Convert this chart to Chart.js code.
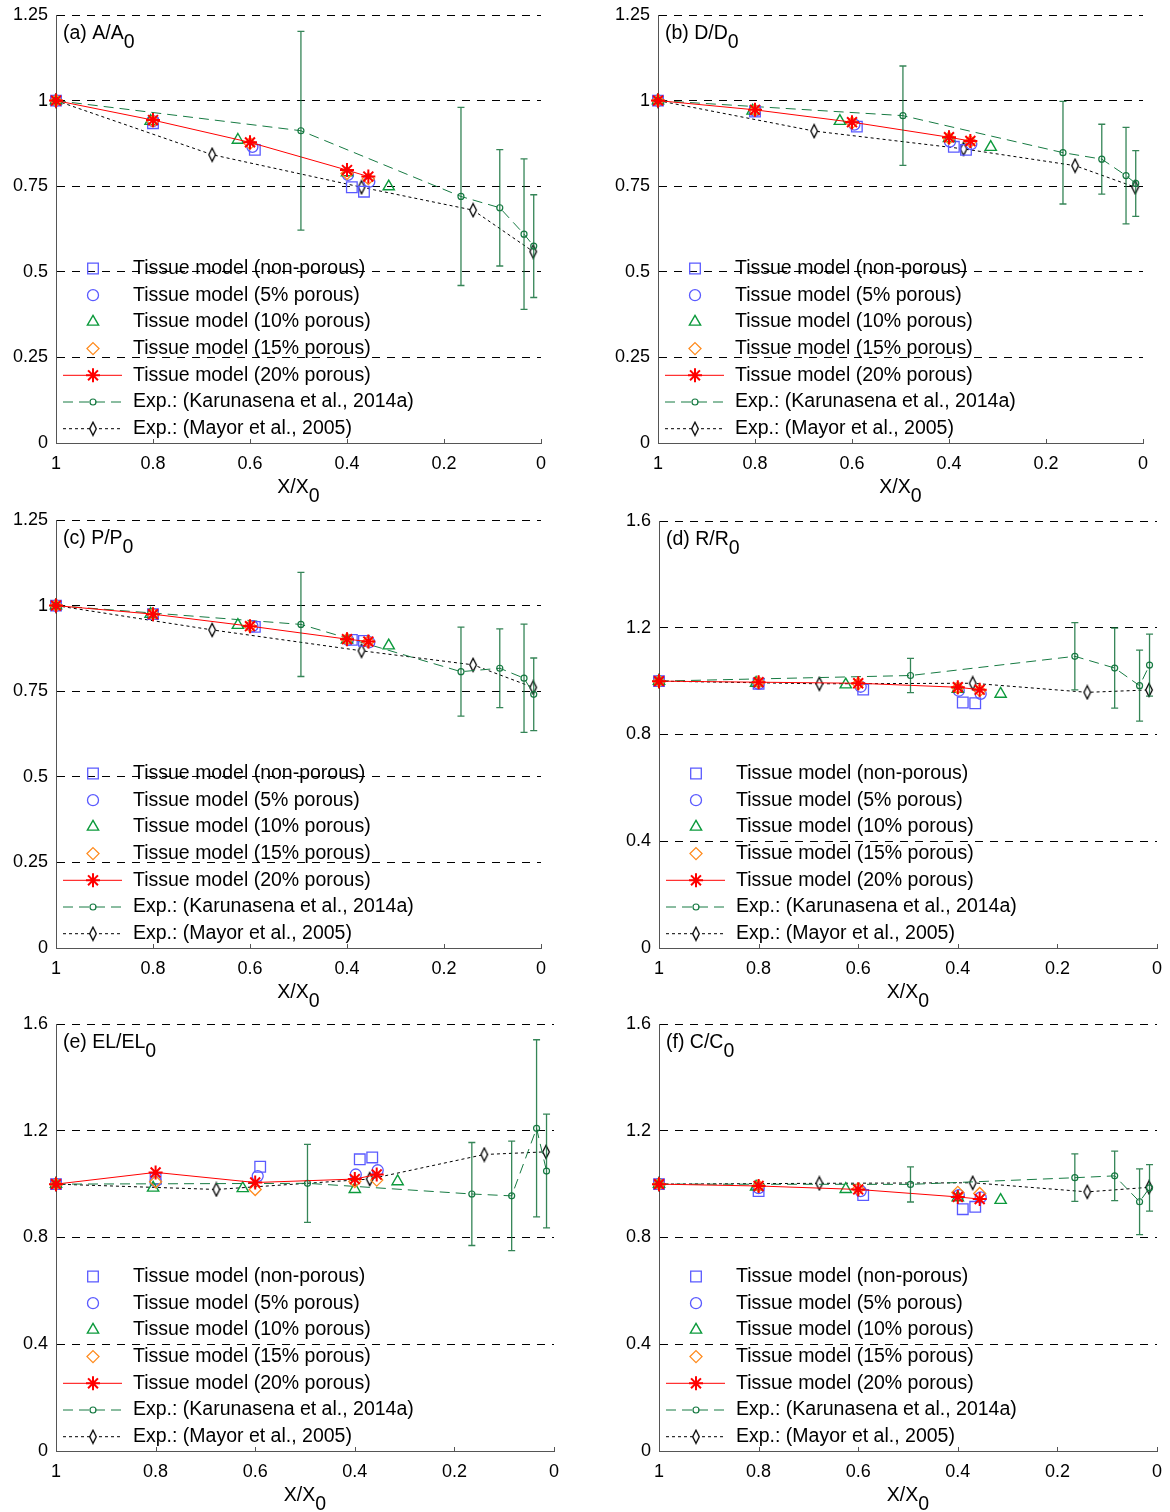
<!DOCTYPE html>
<html>
<head>
<meta charset="utf-8">
<title>Tissue model vs experiment</title>
<script src="https://cdn.jsdelivr.net/npm/chart.js@4.4.1/dist/chart.umd.min.js"></script>
<style>
  body { margin: 0; background: #fff; width: 1170px; height: 1512px; position: relative; overflow: hidden; }
  canvas.panel { position: absolute; }
</style>
</head>
<body>
<canvas id="chartA" class="panel"></canvas>
<canvas id="chartB" class="panel"></canvas>
<canvas id="chartC" class="panel"></canvas>
<canvas id="chartD" class="panel"></canvas>
<canvas id="chartE" class="panel"></canvas>
<canvas id="chartF" class="panel"></canvas>
<script>
// axis ticks
const xTicks = [1, 0.8, 0.6, 0.4, 0.2, 0];
const yTicksSmall = [0, 0.25, 0.5, 0.75, 1, 1.25];
const yTicksWide = [0, 0.4, 0.8, 1.2, 1.6];

const seriesNames = [
  'Tissue model (non-porous)',
  'Tissue model (5% porous)',
  'Tissue model (10% porous)',
  'Tissue model (15% porous)',
  'Tissue model (20% porous)',
  'Exp.: (Karunasena et al., 2014a)',
  'Exp.: (Mayor et al., 2005)'
];

// X/X0 positions of each series
const xNonPorous = [1, 0.8, 0.59, 0.39, 0.365];
const xPorous5 = [1, 0.8, 0.595, 0.398, 0.354];
const xPorous10 = [1, 0.805, 0.625, 0.4, 0.314];
const xPorous15 = [1, 0.8, 0.6, 0.4, 0.356];
const xPorous20 = [1, 0.8, 0.6, 0.4, 0.356];
const xKarunasena = [1, 0.495, 0.165, 0.085, 0.035, 0.015];
const xMayor = [1, 0.678, 0.37, 0.14, 0.016];

// (a) A/A0
const aNonPorous = [1, 0.934, 0.856, 0.747, 0.734];
const aPorous5 = [1, 0.94, 0.865, 0.783, 0.763];
const aPorous10 = [1, 0.94, 0.885, 0.79, 0.749];
const aPorous15 = [1, 0.94, 0.875, 0.787, 0.772];
const aPorous20 = [1, 0.943, 0.878, 0.797, 0.778];
const aKarunasena = [1, 0.912, 0.72, 0.687, 0.61, 0.575];
const aKarunasenaErr = [0, 0.29, 0.26, 0.17, 0.22, 0.15];
const aMayor = [1, 0.842, 0.747, 0.68, 0.559];

// (b) D/D0
const bNonPorous = [1, 0.968, 0.924, 0.865, 0.856];
const bPorous5 = [1, 0.97, 0.93, 0.88, 0.873];
const bPorous10 = [1, 0.97, 0.94, 0.89, 0.864];
const bPorous15 = [1, 0.972, 0.935, 0.89, 0.88];
const bPorous20 = [1, 0.973, 0.937, 0.893, 0.882];
const bKarunasena = [1, 0.956, 0.848, 0.829, 0.781, 0.758];
const bKarunasenaErr = [0, 0.145, 0.15, 0.102, 0.141, 0.096];
const bMayor = [1, 0.911, 0.859, 0.81, 0.747];

// (c) P/P0
const cNonPorous = [1, 0.975, 0.938, 0.9, 0.897];
const cPorous5 = [1, 0.975, 0.94, 0.9, 0.893];
const cPorous10 = [1, 0.975, 0.943, 0.9, 0.883];
const cPorous15 = [1, 0.975, 0.94, 0.902, 0.895];
const cPorous20 = [1, 0.975, 0.94, 0.902, 0.895];
const cKarunasena = [1, 0.945, 0.807, 0.817, 0.788, 0.741];
const cKarunasenaErr = [0, 0.152, 0.13, 0.115, 0.158, 0.106];
const cMayor = [1, 0.929, 0.868, 0.827, 0.761];

// (d) R/R0
const dNonPorous = [1, 0.99, 0.968, 0.92, 0.917];
const dPorous5 = [1, 0.99, 0.979, 0.964, 0.952];
const dPorous10 = [1, 0.993, 0.987, 0.97, 0.952];
const dPorous15 = [1, 0.995, 0.99, 0.975, 0.965];
const dPorous20 = [1, 0.996, 0.992, 0.977, 0.968];
const dKarunasena = [1, 1.021, 1.093, 1.049, 0.983, 1.06];
const dKarunasenaErr = [0, 0.064, 0.126, 0.15, 0.133, 0.116];
const dMayor = [1, 0.99, 0.992, 0.958, 0.967];

// (e) EL/EL0
const eNonPorous = [1, 1.02, 1.065, 1.093, 1.1];
const ePorous5 = [1, 1.01, 1.03, 1.036, 1.052];
const ePorous10 = [1, 0.986, 0.984, 0.981, 1.01];
const ePorous15 = [1, 1.009, 0.98, 1.01, 1.015];
const ePorous20 = [1, 1.044, 1.006, 1.019, 1.036];
const eKarunasena = [1, 1.003, 0.963, 0.956, 1.209, 1.049];
const eKarunasenaErr = [0, 0.146, 0.193, 0.205, 0.332, 0.213];
const eMayor = [1, 0.98, 1.019, 1.111, 1.121];

// (f) C/C0
const fNonPorous = [1, 0.974, 0.959, 0.906, 0.915];
const fPorous5 = [1, 0.985, 0.974, 0.959, 0.95];
const fPorous10 = [1, 0.99, 0.981, 0.95, 0.94];
const fPorous15 = [1, 0.993, 0.982, 0.969, 0.965];
const fPorous20 = [1, 0.993, 0.98, 0.952, 0.944];
const fKarunasena = [1, 0.999, 1.024, 1.031, 0.934, 0.986];
const fKarunasenaErr = [0, 0.066, 0.089, 0.093, 0.123, 0.087];
const fMayor = [1, 1.003, 1.005, 0.971, 0.988];

const panels = [
  { id: 'chartA', tag: '(a) A/A', yTicks: yTicksSmall, err: aKarunasenaErr,
    values: [aNonPorous, aPorous5, aPorous10, aPorous15, aPorous20, aKarunasena, aMayor] },
  { id: 'chartB', tag: '(b) D/D', yTicks: yTicksSmall, err: bKarunasenaErr,
    values: [bNonPorous, bPorous5, bPorous10, bPorous15, bPorous20, bKarunasena, bMayor] },
  { id: 'chartC', tag: '(c) P/P', yTicks: yTicksSmall, err: cKarunasenaErr,
    values: [cNonPorous, cPorous5, cPorous10, cPorous15, cPorous20, cKarunasena, cMayor] },
  { id: 'chartD', tag: '(d) R/R', yTicks: yTicksWide, err: dKarunasenaErr,
    values: [dNonPorous, dPorous5, dPorous10, dPorous15, dPorous20, dKarunasena, dMayor] },
  { id: 'chartE', tag: '(e) EL/EL', yTicks: yTicksWide, err: eKarunasenaErr,
    values: [eNonPorous, ePorous5, ePorous10, ePorous15, ePorous20, eKarunasena, eMayor] },
  { id: 'chartF', tag: '(f) C/C', yTicks: yTicksWide, err: fKarunasenaErr,
    values: [fNonPorous, fPorous5, fPorous10, fPorous15, fPorous20, fKarunasena, fMayor] }
];

// where each canvas sits on the page
const boxes = {
  chartA: { left: 0, top: 0, width: 551, height: 513 },
  chartB: { left: 602, top: 0, width: 551, height: 513 },
  chartC: { left: 0, top: 505, width: 551, height: 513 },
  chartD: { left: 603, top: 506, width: 564, height: 512 },
  chartE: { left: 0, top: 1009, width: 564, height: 512 },
  chartF: { left: 603, top: 1009, width: 564, height: 512 }
};

const FONT = 'Arial, "Liberation Sans", sans-serif';
const errorColor = 'rgba(18, 112, 58, 0.85)';

// narrow open diamond used by the Mayor series
const thinDiamond = document.createElement('canvas');
thinDiamond.width = 10;
thinDiamond.height = 16;
(function () {
  const c = thinDiamond.getContext('2d');
  c.beginPath();
  c.moveTo(5, 1.5);
  c.lineTo(8.3, 8);
  c.lineTo(5, 14.5);
  c.lineTo(1.7, 8);
  c.closePath();
  c.fillStyle = '#fff';
  c.fill();
  c.strokeStyle = '#000';
  c.lineWidth = 1.3;
  c.stroke();
})();

const seriesX = [xNonPorous, xPorous5, xPorous10, xPorous15, xPorous20, xKarunasena, xMayor];
const seriesStyles = [
  { pointStyle: 'rect', radius: 7.5, color: '#5a5aff', pointWidth: 1.3, line: false, order: 4 },
  { pointStyle: 'circle', radius: 5.5, color: '#5a5aff', pointWidth: 1.3, line: false, order: 3 },
  { pointStyle: 'triangle', radius: 6.5, color: '#0c9a3c', pointWidth: 1.4, line: false, order: 2 },
  { pointStyle: 'rectRot', radius: 6, color: '#ff8a1c', pointWidth: 1.3, line: false, order: 1 },
  { pointStyle: 'star', radius: 7, color: '#ff0000', pointWidth: 2, line: true, dash: [], order: 0 },
  { pointStyle: 'circle', radius: 3, color: '#167a42', pointWidth: 1.2, line: true, dash: [10, 6], order: 5 },
  { pointStyle: thinDiamond, radius: 5, color: '#000', pointWidth: 1, line: true, dash: [3, 3], order: 6 }
];

function makeDatasets(panel) {
  return seriesNames.map((name, i) => {
    const st = seriesStyles[i];
    return {
      label: name,
      data: seriesX[i].map((x, j) => ({ x: x, y: panel.values[i][j] })),
      showLine: st.line,
      borderColor: st.color,
      borderWidth: 1,
      borderDash: st.dash || [],
      pointStyle: st.pointStyle,
      pointRadius: st.radius,
      pointBorderColor: st.color,
      pointBackgroundColor: 'rgba(0,0,0,0)',
      pointBorderWidth: st.pointWidth,
      order: st.order,
      clip: false,
      errorBars: i === 5 ? panel.err : null
    };
  });
}

function textWithSub(ctx, main, sub, x, y, centered) {
  const w = ctx.measureText(main).width;
  const ws = ctx.measureText(sub).width;
  const start = centered ? x - (w + ws) / 2 : x;
  ctx.fillText(main, start, y);
  ctx.fillText(sub, start + w, y + 9);
}

function legendMarker(ctx, i, x, y) {
  const st = seriesStyles[i];
  ctx.save();
  ctx.strokeStyle = st.color;
  ctx.lineWidth = st.pointWidth;
  if (st.line) {
    ctx.save();
    ctx.lineWidth = 1;
    ctx.setLineDash(st.dash);
    ctx.beginPath();
    ctx.moveTo(x - 30, y);
    ctx.lineTo(x + 29, y);
    ctx.stroke();
    ctx.restore();
  }
  const r = st.radius;
  ctx.beginPath();
  if (st.pointStyle === 'rect') {
    const s = r * Math.SQRT1_2;
    ctx.rect(x - s, y - s, 2 * s, 2 * s);
    ctx.stroke();
  } else if (st.pointStyle === 'circle') {
    ctx.arc(x, y, r, 0, Math.PI * 2);
    ctx.stroke();
  } else if (st.pointStyle === 'triangle') {
    ctx.moveTo(x, y - r);
    ctx.lineTo(x + r * 0.866, y + r * 0.5);
    ctx.lineTo(x - r * 0.866, y + r * 0.5);
    ctx.closePath();
    ctx.stroke();
  } else if (st.pointStyle === 'rectRot') {
    ctx.moveTo(x, y - r);
    ctx.lineTo(x + r, y);
    ctx.lineTo(x, y + r);
    ctx.lineTo(x - r, y);
    ctx.closePath();
    ctx.stroke();
  } else if (st.pointStyle === 'star') {
    const d = r * Math.SQRT1_2;
    ctx.moveTo(x - r, y); ctx.lineTo(x + r, y);
    ctx.moveTo(x, y - r); ctx.lineTo(x, y + r);
    ctx.moveTo(x - d, y - d); ctx.lineTo(x + d, y + d);
    ctx.moveTo(x - d, y + d); ctx.lineTo(x + d, y - d);
    ctx.stroke();
  } else {
    ctx.drawImage(thinDiamond, x - thinDiamond.width / 2, y - thinDiamond.height / 2);
  }
  ctx.restore();
}

const decoPlugin = {
  id: 'deco',
  afterDatasetsDraw(chart) {
    const ctx = chart.ctx;
    const xs = chart.scales.x;
    const ys = chart.scales.y;
    chart.data.datasets.forEach(ds => {
      if (!ds.errorBars) return;
      ctx.save();
      ctx.strokeStyle = errorColor;
      ctx.lineWidth = 1.3;
      ds.data.forEach((p, j) => {
        const e = ds.errorBars[j];
        if (!e) return;
        const px = xs.getPixelForValue(p.x);
        const top = ys.getPixelForValue(p.y + e);
        const bot = ys.getPixelForValue(p.y - e);
        ctx.beginPath();
        ctx.moveTo(px, top); ctx.lineTo(px, bot);
        ctx.moveTo(px - 3.5, top); ctx.lineTo(px + 3.5, top);
        ctx.moveTo(px - 3.5, bot); ctx.lineTo(px + 3.5, bot);
        ctx.stroke();
      });
      ctx.restore();
    });
  },
  afterDraw(chart, args, opts) {
    const ctx = chart.ctx;
    const area = chart.chartArea;
    const xs = chart.scales.x;

    // small inward ticks on the x axis
    ctx.save();
    ctx.strokeStyle = '#555';
    ctx.lineWidth = 1;
    xTicks.forEach(v => {
      if (v === 1) return;
      const px = Math.round(xs.getPixelForValue(v)) + 0.5;
      ctx.beginPath();
      ctx.moveTo(px, area.bottom);
      ctx.lineTo(px, area.bottom - 4);
      ctx.stroke();
    });
    ctx.restore();

    ctx.save();
    ctx.fillStyle = '#000';
    ctx.textBaseline = 'middle';
    ctx.font = '19.5px ' + FONT;

    // panel label and axis title
    textWithSub(ctx, opts.tag, '0', area.left + 7, area.top + 19, false);
    textWithSub(ctx, 'X/X', '0', (area.left + area.right) / 2, area.bottom + 45, true);

    // legend in the lower left of the plot
    seriesNames.forEach((name, i) => {
      const y = area.bottom - 174.5 + i * 26.7;
      legendMarker(ctx, i, area.left + 37, y);
      ctx.fillStyle = '#000';
      ctx.fillText(name, area.left + 77, y);
    });
    ctx.restore();
  }
};

// keep the plot box fixed: no extra room for the end labels
function noLabelPadding(scale) {
  scale.paddingTop = 0;
  scale.paddingBottom = 0;
  scale.paddingLeft = 0;
  scale.paddingRight = 0;
}

Chart.defaults.font.family = FONT;
Chart.defaults.font.size = 18;
Chart.defaults.color = '#000';

panels.forEach(panel => {
  const canvas = document.getElementById(panel.id);
  const box = boxes[panel.id];
  canvas.width = box.width;
  canvas.height = box.height;
  canvas.style.left = box.left + 'px';
  canvas.style.top = box.top + 'px';
  canvas.style.width = box.width + 'px';
  canvas.style.height = box.height + 'px';

  const yMax = panel.yTicks[panel.yTicks.length - 1];
  new Chart(canvas.getContext('2d'), {
    type: 'scatter',
    data: { datasets: makeDatasets(panel) },
    options: {
      responsive: false,
      animation: false,
      devicePixelRatio: 1,
      layout: { autoPadding: false, padding: { left: 0, top: 15, right: 10, bottom: 0 } },
      plugins: {
        legend: { display: false },
        tooltip: { enabled: false },
        deco: { tag: panel.tag }
      },
      scales: {
        x: {
          type: 'linear',
          min: 0,
          max: 1,
          reverse: true,
          afterBuildTicks: scale => { scale.ticks = xTicks.map(v => ({ value: v })); },
          afterFit: scale => { scale.height = 70; noLabelPadding(scale); },
          ticks: { padding: 10, maxRotation: 0, autoSkip: false, callback: v => String(+v.toFixed(2)) },
          grid: { display: false, drawTicks: false },
          border: { display: true, color: '#555', width: 1 }
        },
        y: {
          type: 'linear',
          min: 0,
          max: yMax,
          afterBuildTicks: scale => { scale.ticks = panel.yTicks.map(v => ({ value: v })); },
          afterFit: scale => { scale.width = 56; noLabelPadding(scale); },
          ticks: { padding: 8, autoSkip: false, callback: v => String(+v.toFixed(2)) },
          grid: {
            drawTicks: false,
            lineWidth: 1,
            color: c => (c.tick && c.tick.value === 0 ? 'rgba(0,0,0,0)' : '#000')
          },
          border: { display: true, color: '#555', width: 1, dash: [8, 7] }
        }
      }
    },
    plugins: [decoPlugin]
  });
});
</script>
</body>
</html>
